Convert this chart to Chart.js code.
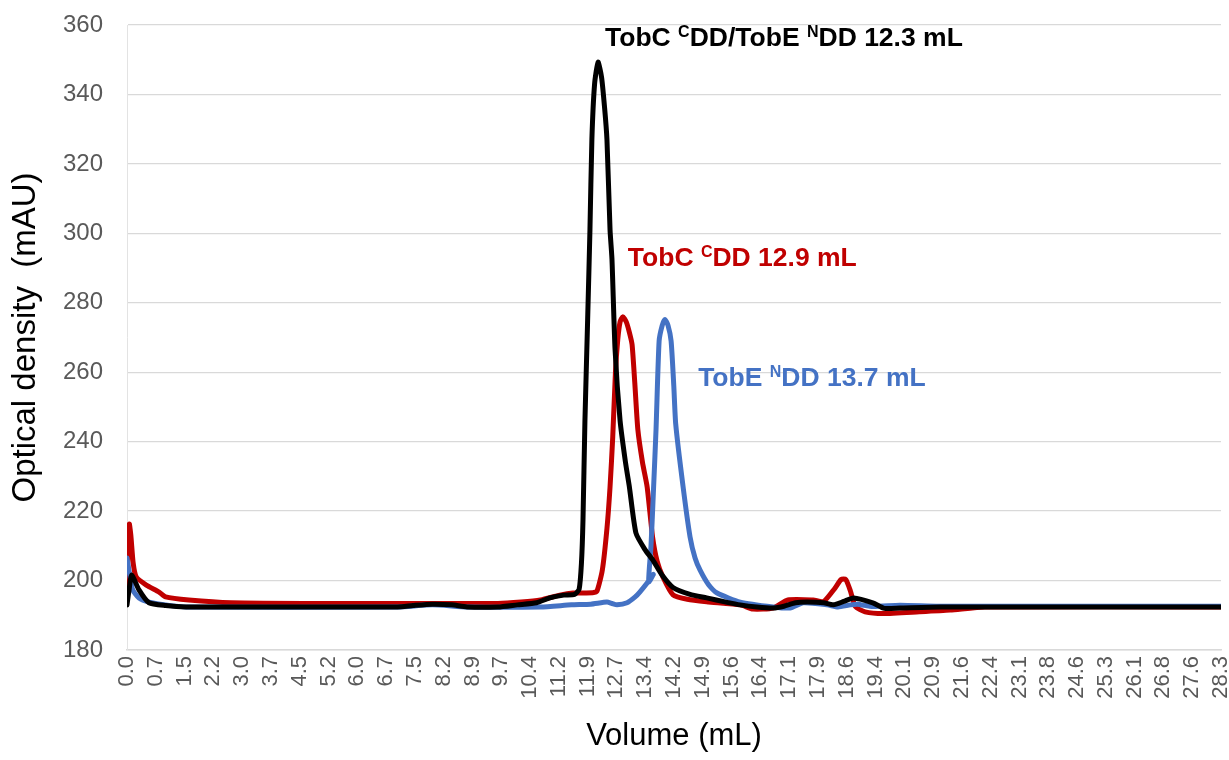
<!DOCTYPE html>
<html>
<head>
<meta charset="utf-8">
<script src="https://cdn.jsdelivr.net/npm/chart.js@4"></script>
<style>
  html, body { margin: 0; padding: 0; background: #fff; }
  #wrap { width: 1229px; height: 760px; }
</style>
</head>
<body>
<div id="wrap"><canvas id="sec"></canvas></div>
<script>
// tick labels of the volume axis, as printed in the spreadsheet (evenly spaced)
const xTickLabels = ['0.0','0.7','1.5','2.2','3.0','3.7','4.5','5.2','6.0','6.7','7.5','8.2','8.9','9.7',
  '10.4','11.2','11.9','12.7','13.4','14.2','14.9','15.6','16.4','17.1','17.9','18.6','19.4','20.1',
  '20.9','21.6','22.4','23.1','23.8','24.6','25.3','26.1','26.8','27.6','28.3'];
const volMax = 28.31;

// TobC CDD / TobE NDD complex (black)
const complexVol = [0.00,0.05,0.12,0.31,0.57,1.0,1.53,4.0,7.0,7.4,7.9,8.4,8.8,9.6,10.1,10.6,10.94,11.3,11.58,
  11.70,11.76,11.80,11.85,11.92,11.98,12.03,12.10,12.19,12.28,12.36,12.42,12.50,12.55,12.63,12.76,12.90,
  13.00,13.17,13.40,13.60,13.85,14.13,14.57,15.00,15.50,15.87,16.30,16.72,17.00,17.30,17.60,18.03,18.28,
  18.55,18.80,19.30,19.60,20.0,21.05,28.31];
const complexOD = [193.0,197,201.6,197.3,193.6,192.8,192.4,192.4,192.4,192.8,193.2,193.0,192.4,192.4,193.0,193.6,195.0,195.8,196.0,
  197.5,205,217.5,246,275,301,327,343,349.3,345,336,327,301,292.5,266.5,246,234,
  227,213.7,209,206,201.5,198,196,195,193.8,193.0,192.4,192.1,192.6,193.6,193.8,193.6,193.0,
  194,195,193.6,192.0,192.1,192.4,192.4];

// TobC CDD alone (red)
const tobcVol = [0.00,0.03,0.06,0.10,0.16,0.24,0.50,0.83,1.00,1.60,2.70,5.0,9.6,10.2,10.7,11.2,11.54,12.05,12.16,
  12.30,12.42,12.50,12.57,12.64,12.70,12.76,12.83,12.92,13.00,13.07,13.14,13.22,13.34,13.46,13.60,13.72,
  13.87,14.13,14.5,15.00,15.87,16.20,16.72,17.10,17.76,18.03,18.30,18.48,18.60,18.72,18.85,19.10,19.57,
  20.50,21.30,22.20,28.31];
const tobcOD = [194.4,212,216.3,213,205,201,198.7,196.7,195.3,194.4,193.6,193.4,193.4,193.8,194.4,195.8,196.4,196.5,196.9,
  203,215,227,241.4,260,269.4,274.5,276,274.5,271.5,268,257,243.4,234,227,212.6,205.5,
  201,195.9,194.6,193.9,193.0,191.8,192.1,194.4,194.4,194.0,197.5,200.3,200.3,197,192.5,191.0,190.5,
  191.0,191.5,192.4,192.4];

// TobE NDD alone (blue)
const tobeVol = [0.00,0.08,0.15,0.31,0.57,1.00,1.53,7.0,7.9,8.8,10.7,11.5,12.0,12.42,12.55,12.68,12.94,13.15,13.27,
  13.46,13.62,13.50,13.56,13.62,13.69,13.77,13.85,13.92,14.00,14.08,14.15,14.20,14.39,14.57,14.70,14.83,
  15.05,15.27,15.87,16.72,17.16,17.50,18.12,18.40,18.72,18.90,19.30,20.0,21.0,28.31];
const tobeOD = [206.5,201,197.3,195.0,193.8,193.0,192.4,192.4,193.0,192.4,192.4,193.0,193.2,193.8,193.4,193.0,193.6,195.3,196.7,
  199.3,201.8,199.6,210,225,243.5,269,273.5,275.2,273.5,269,256,245,227,212.6,206.5,203,
  198.8,196.4,193.8,192.4,192.1,193.6,193.0,192.4,193.0,193.2,192.5,192.9,192.6,192.6];

const yMin = 180, yMax = 360, yStep = 20;

const FONT = '"Liberation Sans", Arial, sans-serif';

function pairs(xs, ys) {
  return xs.map((v, i) => ({ x: v, y: ys[i] }));
}

// peak annotations, anchored in data units (volume, mAU)
const peakLabels = [
  { at: [12.37, 353.9], color: '#000000', parts: [['TobC ', 0], ['C', 1], ['DD/TobE ', 0], ['N', 1], ['DD 12.3 mL', 0]] },
  { at: [12.96, 290.5], color: '#c00000', parts: [['TobC ', 0], ['C', 1], ['DD 12.9 mL', 0]] },
  { at: [14.78, 255.9], color: '#4472c4', parts: [['TobE ', 0], ['N', 1], ['DD 13.7 mL', 0]] }
];

const labelPlugin = {
  id: 'peakLabels',
  afterDatasetsDraw(chart) {
    const ctx = chart.ctx;
    const xs = chart.scales.x, ys = chart.scales.y;
    peakLabels.forEach(l => {
      let px = xs.getPixelForValue(l.at[0]);
      const py = ys.getPixelForValue(l.at[1]);
      ctx.save();
      ctx.fillStyle = l.color;
      ctx.textBaseline = 'alphabetic';
      ctx.textAlign = 'left';
      l.parts.forEach(p => {
        ctx.font = 'bold ' + (p[1] ? 16 : 26.5) + 'px ' + FONT;
        ctx.fillText(p[0], px, p[1] ? py - 9 : py);
        px += ctx.measureText(p[0]).width;
      });
      ctx.restore();
    });
  }
};

const lineStyle = {
  pointRadius: 0,
  borderWidth: 5,
  tension: 0.2,
  borderCapStyle: 'round',
  borderJoinStyle: 'round',
  fill: false
};

new Chart(document.getElementById('sec'), {
  type: 'line',
  data: {
    datasets: [
      Object.assign({ label: 'TobC CDD/TobE NDD', data: pairs(complexVol, complexOD), borderColor: '#000000' }, lineStyle),
      Object.assign({ label: 'TobE NDD', data: pairs(tobeVol, tobeOD), borderColor: '#4472c4' }, lineStyle),
      Object.assign({ label: 'TobC CDD', data: pairs(tobcVol, tobcOD), borderColor: '#c00000' }, lineStyle)
    ]
  },
  plugins: [labelPlugin],
  options: {
    responsive: true,
    maintainAspectRatio: false,
    animation: false,
    devicePixelRatio: 1,
    layout: { padding: { left: 0, right: 8, top: 25, bottom: 0 } },
    plugins: {
      legend: { display: false },
      tooltip: { enabled: false }
    },
    scales: {
      x: {
        type: 'linear',
        min: 0,
        max: volMax,
        afterBuildTicks(scale) {
          const n = xTickLabels.length;
          scale.ticks = xTickLabels.map((t, i) => ({ value: i * volMax / (n - 1) }));
        },
        afterFit(scale) {
          scale.height = 110;
          scale.paddingLeft = 0;
          scale.paddingRight = 0;
        },
        ticks: {
          autoSkip: false,
          minRotation: 90,
          maxRotation: 90,
          padding: 6,
          color: '#595959',
          font: { family: FONT, size: 22 },
          callback: (v, i) => xTickLabels[i]
        },
        grid: { display: false, drawTicks: false },
        border: { display: true, color: '#d9d9d9', width: 1.5 },
        title: {
          display: true,
          text: 'Volume (mL)',
          color: '#000000',
          font: { family: FONT, size: 31 },
          padding: { top: 0, bottom: 5 }
        }
      },
      y: {
        min: yMin,
        max: yMax,
        afterFit(scale) {
          scale.width = 127;
          scale.paddingTop = 0;
          scale.paddingBottom = 0;
        },
        ticks: {
          stepSize: yStep,
          padding: 24,
          color: '#595959',
          font: { family: FONT, size: 24 }
        },
        grid: { color: '#d9d9d9', lineWidth: 1.3, drawTicks: false },
        border: { display: true, color: '#e3e3e3', width: 1 },
        title: {
          display: true,
          text: 'Optical density  (mAU)',
          color: '#000000',
          font: { family: FONT, size: 33 },
          padding: { top: 6, bottom: 0 }
        }
      }
    }
  }
});
</script>
</body>
</html>
